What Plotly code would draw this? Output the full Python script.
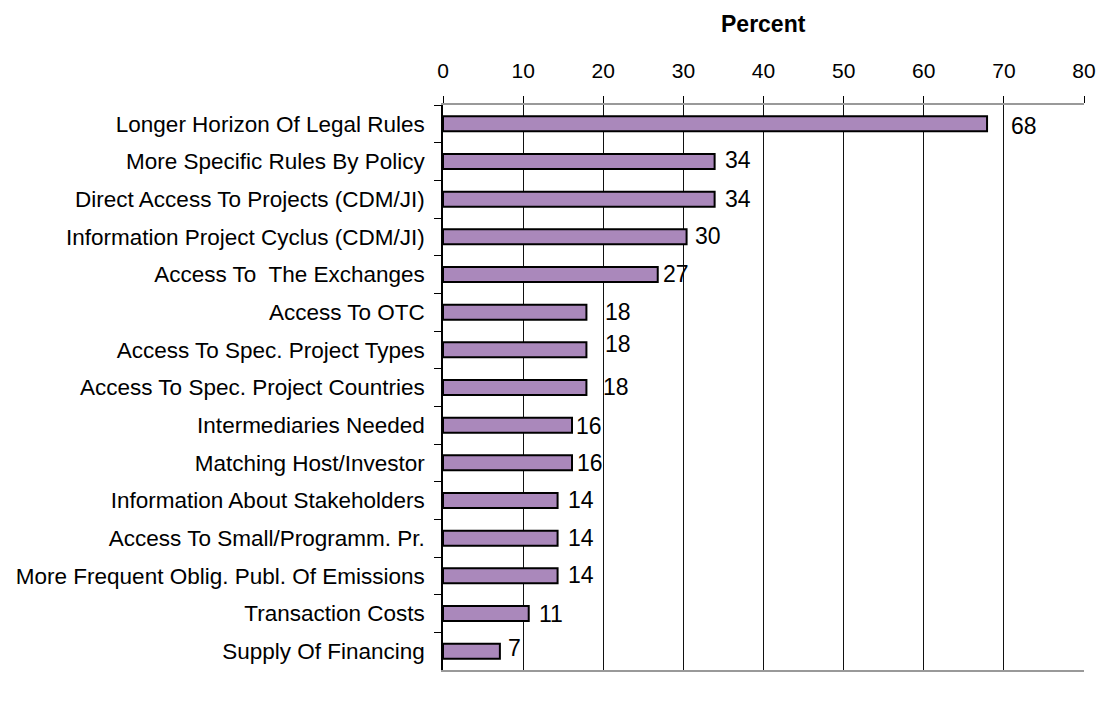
import plotly.graph_objects as go

# data (share of respondents, percent)
categories = [
    "Longer Horizon Of Legal Rules",
    "More Specific Rules By Policy",
    "Direct Access To Projects (CDM/JI)",
    "Information Project Cyclus (CDM/JI)",
    "Access To  The Exchanges",
    "Access To OTC",
    "Access To Spec. Project Types",
    "Access To Spec. Project Countries",
    "Intermediaries Needed",
    "Matching Host/Investor",
    "Information About Stakeholders",
    "Access To Small/Programm. Pr.",
    "More Frequent Oblig. Publ. Of Emissions",
    "Transaction Costs",
    "Supply Of Financing",
]
values = [67.9, 33.9, 33.9, 30.4, 26.8, 17.9, 17.9, 17.9, 16.1, 16.1, 14.3, 14.3, 14.3, 10.7, 7.1]
value_labels = ["68", "34", "34", "30", "27", "18", "18", "18", "16", "16", "14", "14", "14", "11", "7"]
tick_vals = [0, 10, 20, 30, 40, 50, 60, 70, 80]

# label placement tweaks (pixels), mimicking the original layout
label_dx = [22, 8, 8, 6, 3, 17, 17, 15, 2, 3, 8, 8, 8, 8, 6]
label_dy = [-2.5, 1.5, 0.5, 0.5, 1, 0, 6, 0.5, -1, 0, 0.5, 0.5, 1, 0, 3]

font = "Liberation Sans, Arial, sans-serif"

fig = go.Figure()
fig.add_trace(go.Bar(
    x=values,
    y=categories,
    orientation="h",
    marker=dict(color="rgb(170,136,187)", line=dict(color="black", width=2)),
    hoverinfo="x+y",
))

for cat, val, lab, dx, dy in zip(categories, values, value_labels, label_dx, label_dy):
    fig.add_annotation(
        x=val, y=cat, text=lab, showarrow=False,
        xanchor="left", yanchor="middle", xshift=dx, yshift=dy,
        font=dict(family=font, size=23, color="black"),
    )

# axis title placed above the top tick labels
fig.add_annotation(
    x=0.5, y=1, xref="paper", yref="paper", text="<b>Percent</b>",
    showarrow=False, xanchor="center", yanchor="middle", yshift=81,
    font=dict(family=font, size=23, color="black"),
)

fig.update_layout(
    width=1097, height=704,
    margin=dict(l=443, r=13, t=105, b=34),
    plot_bgcolor="white", paper_bgcolor="white",
    showlegend=False,
    bargap=0.6,
    font=dict(family=font, size=21, color="black"),
    xaxis=dict(
        side="top", range=[0, 80], tickvals=tick_vals,
        showgrid=True, gridcolor="#111111", gridwidth=1,
        ticks="outside", ticklen=7, tickcolor="black",
        showline=True, linecolor="#999999", linewidth=1.5, mirror=True,
        zeroline=False, automargin=False,
        ticklabelstandoff=10,
        tickfont=dict(size=21),
    ),
    yaxis=dict(
        categoryorder="array", categoryarray=categories, autorange="reversed",
        tickson="boundaries", ticks="outside", ticklen=7, tickcolor="black",
        showline=True, linecolor="black", linewidth=1.5,
        automargin=False,
        ticklabelstandoff=12,
        tickfont=dict(size=22.5),
    ),
)

# let the figure fill the window edge to edge
page_fix = "document.body.style.margin='0';document.body.style.overflow='hidden';"
fig.write_html("out.html", post_script=page_fix, config={"displayModeBar": False})
